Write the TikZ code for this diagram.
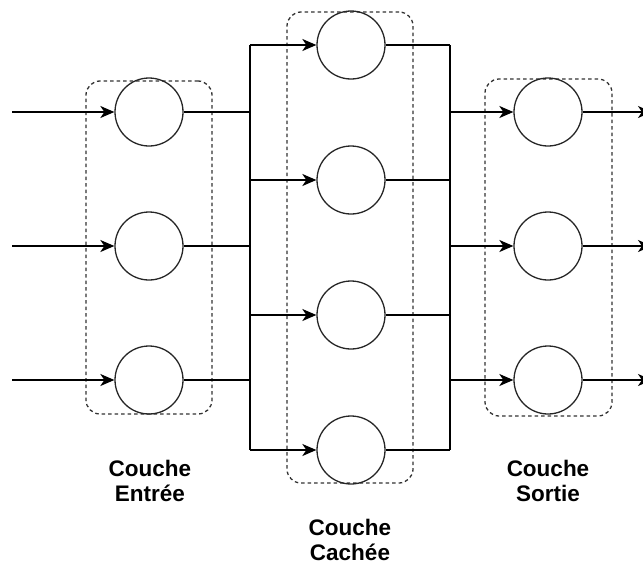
\documentclass[tikz,border=0pt]{standalone}
\usepackage{fontspec}
\setmainfont{Liberation Sans}
\usetikzlibrary{arrows.meta}
\begin{document}
\begin{tikzpicture}[x=1pt,y=-1pt,
  neuron/.style={circle,draw=black!85,line width=1.3pt,minimum size=68pt,inner sep=0pt},
  layerbox/.style={draw=black!80,dash pattern=on 3.5pt off 3pt,line width=1.3pt,rounded corners=14pt,inner sep=0pt},
  wire/.style={line width=1.4pt},
  arr/.style={wire,-{Stealth[length=14pt,width=12pt,inset=4pt]}},
  lbl/.style={font=\bfseries\fontsize{22.5}{25}\selectfont,align=center,inner sep=0pt}]
\useasboundingbox (0,0) rectangle (643,565);
% layer boxes
\node[layerbox,minimum width=126pt,minimum height=333pt] (boxin) at (149,247.5) {};
\node[layerbox,minimum width=126pt,minimum height=471pt] (boxhid) at (350,247.5) {};
\node[layerbox,minimum width=127pt,minimum height=337pt] (boxout) at (548.5,247.5) {};
% neurons
\node[neuron] (i1) at (149,112) {};
\node[neuron] (i2) at (149,246) {};
\node[neuron] (i3) at (149,380) {};
\node[neuron] (h1) at (351,45) {};
\node[neuron] (h2) at (351,180) {};
\node[neuron] (h3) at (351,315) {};
\node[neuron] (h4) at (351,450) {};
\node[neuron] (o1) at (548,112) {};
\node[neuron] (o2) at (548,246) {};
\node[neuron] (o3) at (548,380) {};
% bus and free-end coordinates
\coordinate (busL) at (250,0);
\coordinate (busR) at (450,0);
\coordinate (inL) at (12,0);
\coordinate (outR) at (652,0);
% inputs
\foreach \n in {i1,i2,i3}{
  \draw[arr] (\n.west -| inL) -- (\n.west);
  \draw[wire] (\n.east) -- (\n.east -| busL);
}
\draw[wire] (h1.west -| busL) -- (h4.west -| busL);
\foreach \n in {h1,h2,h3,h4}{
  \draw[arr] (\n.west -| busL) -- (\n.west);
  \draw[wire] (\n.east) -- (\n.east -| busR);
}
\draw[wire] (h1.east -| busR) -- (h4.east -| busR);
\foreach \n in {o1,o2,o3}{
  \draw[arr] (\n.west -| busR) -- (\n.west);
  \draw[arr] (\n.east) -- (\n.east -| outR);
}
% labels
\node[lbl] (lin) at (150,481) {Couche\\Entrée};
\node[lbl] (lhid) at (350,540) {Couche\\Cachée};
\node[lbl] (lout) at (548,481) {Couche\\Sortie};
\end{tikzpicture}
\end{document}
